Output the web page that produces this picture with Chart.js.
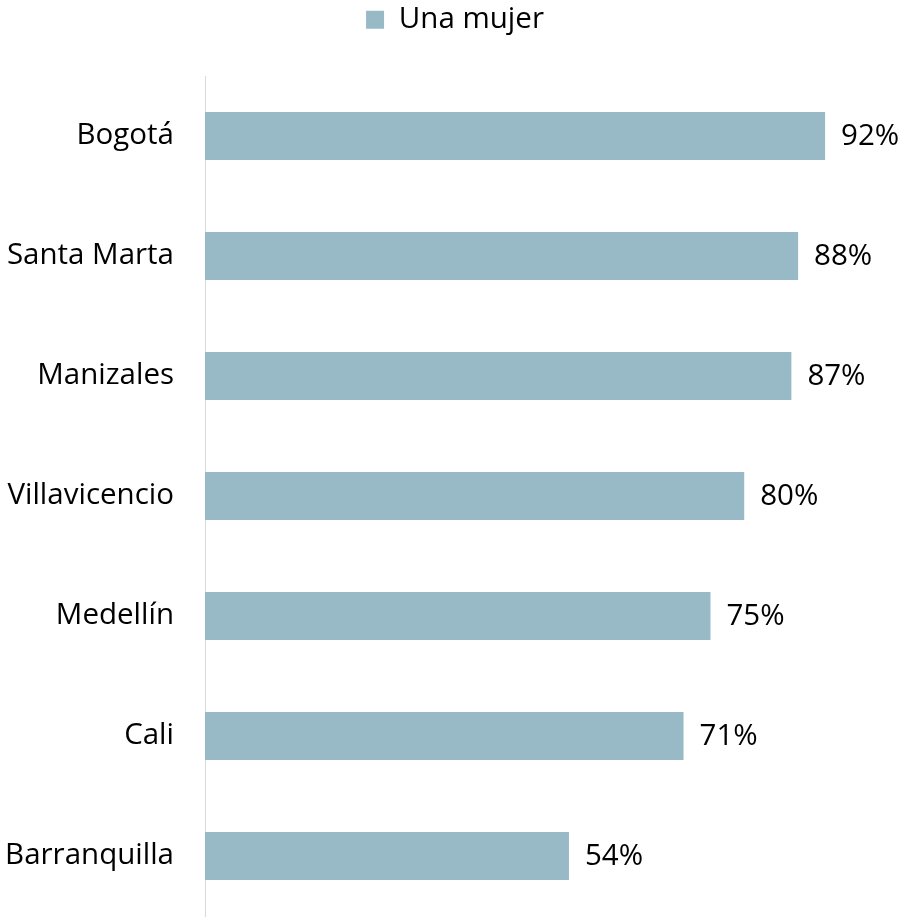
<!DOCTYPE html>
<html>
<head>
<meta charset="utf-8">
<script src="https://cdn.jsdelivr.net/npm/chart.js@4"></script>
<style>
  html, body { margin: 0; padding: 0; background: #fff; }
  #wrap { width: 910px; height: 918px; }
</style>
</head>
<body>
<div id="wrap"><canvas id="chart" width="910" height="918"></canvas></div>
<script>
const cities = ["Bogotá", "Santa Marta", "Manizales", "Villavicencio", "Medellín", "Cali", "Barranquilla"];
const unaMujer = [92, 88, 87, 80, 75, 71, 54];
const seriesLabel = "Una mujer";

const FONT = "'Open Sans', 'Noto Sans', sans-serif";
const FONT_SIZE = 29.5;
const BAR_COLOR = "#97bac6";

// legend takes the whole band above the plot, centred on the full canvas
const legendSpace = {
  id: "legendSpace",
  beforeInit(chart) {
    const fit = chart.legend.fit;
    chart.legend.fit = function () {
      fit.bind(chart.legend)();
      this.height = 76;
    };
  },
  afterLayout(chart) {
    chart.legend.left = 0;
    chart.legend.right = chart.width;
    chart.legend.width = chart.width;
  }
};

// draws the "92%" labels at the end of each bar
const valueLabels = {
  id: "valueLabels",
  afterDatasetsDraw(chart) {
    const ctx = chart.ctx;
    const meta = chart.getDatasetMeta(0);
    ctx.save();
    ctx.font = FONT_SIZE + "px " + FONT;
    ctx.fillStyle = "#000";
    ctx.textAlign = "left";
    ctx.textBaseline = "middle";
    meta.data.forEach((bar, i) => {
      ctx.fillText(chart.data.datasets[0].data[i] + "%", bar.x + 16, bar.y + 1);
    });
    ctx.restore();
  }
};

new Chart(document.getElementById("chart"), {
  type: "bar",
  data: {
    labels: cities,
    datasets: [{
      label: seriesLabel,
      data: unaMujer,
      backgroundColor: BAR_COLOR,
      borderWidth: 0,
      categoryPercentage: 0.4,
      barPercentage: 1
    }]
  },
  options: {
    indexAxis: "y",
    responsive: false,
    animation: false,
    layout: { padding: { left: 0, right: 31, top: 0, bottom: 2 } },
    scales: {
      x: { display: false, min: 0, max: 100 },
      y: {
        grid: { display: false, drawTicks: false },
        border: { display: true, color: "#d9d9d9", width: 1 },
        ticks: { color: "#000", padding: 31, font: { family: FONT, size: FONT_SIZE } },
        afterFit: (s) => {
          s.width = 205;
          s.paddingTop = 0;
          s.paddingBottom = 0;
        }
      }
    },
    plugins: {
      legend: {
        position: "top",
        labels: {
          color: "#000",
          boxWidth: 18,
          boxHeight: 18,
          padding: 5,
          font: { family: FONT, size: FONT_SIZE }
        }
      },
      tooltip: { enabled: false }
    }
  },
  plugins: [legendSpace, valueLabels]
});
</script>
</body>
</html>
